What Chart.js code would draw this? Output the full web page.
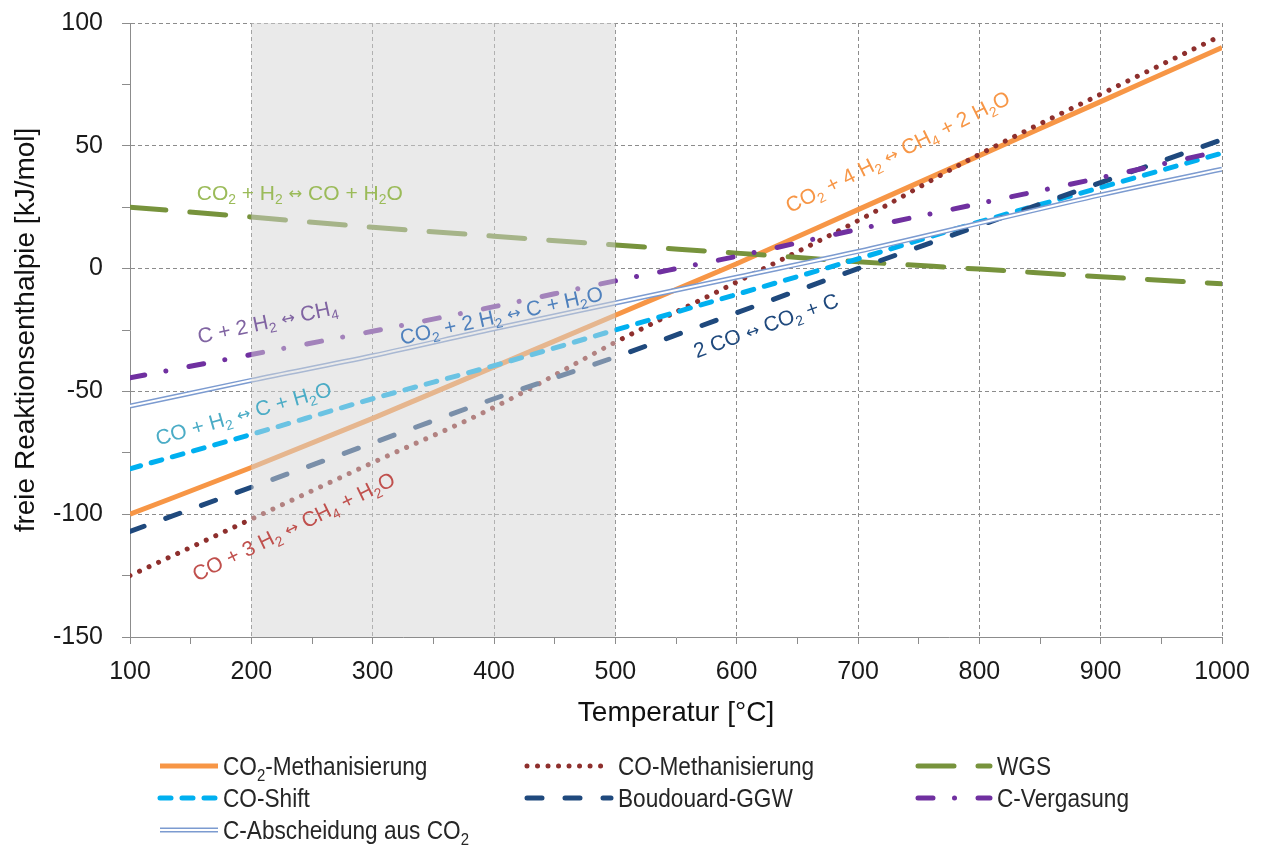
<!DOCTYPE html>
<html>
<head>
<meta charset="utf-8">
<script src="https://cdn.jsdelivr.net/npm/chart.js@4/dist/chart.umd.min.js"></script>
<style>
  html, body { margin: 0; padding: 0; background: #ffffff; }
  #c { display: block; }
</style>
</head>
<body>
<canvas id="c" width="1263" height="845"></canvas>
<script>
// Temperatur [°C]
const temperatures = [100, 200, 300, 400, 500, 600, 700, 800, 900, 1000];

// freie Reaktionsenthalpie [kJ/mol]
const co2Methanisierung = [-100, -81, -61, -40, -19, 2, 24, 46, 68, 90];
const coMethanisierung  = [-125, -102, -79, -56.5, -30, -5.5, 19.5, 46.5, 71, 95];
const wgs               = [25, 21, 16.8, 13.2, 9.6, 6.3, 2.8, -0.2, -3.3, -6.2];
const coShift           = [-81.5, -67.5, -53, -39.5, -25, -10.5, 4, 19, 33, 47];
const boudouard         = [-107, -89, -71, -53, -36, -18, 0, 17.5, 35, 52.5];
const cVergasung        = [-44.5, -35, -25.5, -15.5, -5, 5, 16, 26.5, 37, 48];
const cAbscheidung      = [-56, -45.5, -35.5, -24.5, -14, -3.5, 7, 18.5, 30, 40.5];

// Axis ranges and ticks
const xTicks = { min: 100, max: 1000, minor: 50, major: 100 };
const yTicks = { min: -150, max: 100, minor: 25, major: 50 };

// Highlighted operating window
const windowRange = [200, 500];

const FONT = "'Liberation Sans', Arial, Helvetica, sans-serif";
const GRID = '#8c8c8c';

// Reaction equations written next to the curves ('_' = subscript)
const reactionLabels = [
  { text: 'CO_2 + H_2 ↔ CO + H_2O',        x: 155, y: 28,     angle: 0,     color: '#9BBB59' },
  { text: 'C + 2 H_2 ↔ CH_4',              x: 157, y: -30.5,  angle: -12,   color: '#8064A2' },
  { text: 'CO_2 + 2 H_2 ↔ C + H_2O',       x: 324, y: -31,    angle: -12.5, color: '#4F81BD' },
  { text: 'CO + H_2 ↔ C + H_2O',           x: 123, y: -72,    angle: -16,   color: '#4BACC6' },
  { text: 'CO + 3 H_2 ↔ CH_4 + H_2O',      x: 155, y: -127.5, angle: -26,   color: '#C0504D' },
  { text: 'CO_2 + 4 H_2 ↔ CH_4 + 2 H_2O',  x: 644, y: 22.5,   angle: -26.5, color: '#F79646' },
  { text: '2 CO ↔ CO_2 + C',               x: 567, y: -36.5,  angle: -20,   color: '#1F497D' }
];

const pts = arr => temperatures.map((t, i) => ({ x: t, y: arr[i] }));

// Draws text with subscripts ('_' before a character) and a lighter arrow
function drawRich(ctx, text, size, color) {
  ctx.fillStyle = color;
  ctx.textBaseline = 'alphabetic';
  ctx.textAlign = 'left';
  let cx = 0;
  let run = '';
  const flush = () => {
    if (!run) return;
    ctx.font = `${size}px ${FONT}`;
    ctx.fillText(run, cx, 0);
    cx += ctx.measureText(run).width;
    run = '';
  };
  for (let i = 0; i < text.length; i++) {
    const ch = text[i];
    if (ch === '_') {
      flush();
      const s = text[++i];
      ctx.font = `${size * 0.66}px ${FONT}`;
      ctx.fillText(s, cx, size * 0.22);
      cx += ctx.measureText(s).width;
    } else if (ch === '↔') {
      flush();
      ctx.font = `${size * 0.78}px 'DejaVu Sans', ${FONT}`;
      ctx.fillText(ch, cx, -size * 0.04);
      cx += ctx.measureText(ch).width;
    } else {
      run += ch;
    }
  }
  flush();
  return cx;
}

function strokeSample(ctx, ds, x1, x2, y) {
  ctx.save();
  ctx.beginPath();
  ctx.setLineDash(ds.borderDash || []);
  ctx.lineCap = ds.borderCapStyle || 'butt';
  ctx.lineWidth = ds.borderWidth;
  ctx.strokeStyle = ds.borderColor;
  ctx.moveTo(x1, y);
  ctx.lineTo(x2, y);
  ctx.stroke();
  ctx.restore();
}

// Legend entries: dataset index, row, column, label
const legendEntries = [
  { ds: 0, row: 0, col: 0, text: 'CO_2-Methanisierung' },
  { ds: 1, row: 0, col: 1, text: 'CO-Methanisierung' },
  { ds: 2, row: 0, col: 2, text: 'WGS' },
  { ds: 3, row: 1, col: 0, text: 'CO-Shift' },
  { ds: 4, row: 1, col: 1, text: 'Boudouard-GGW' },
  { ds: 5, row: 1, col: 2, text: 'C-Vergasung' },
  { ds: 6, row: 2, col: 0, text: 'C-Abscheidung aus CO_2', inner: 7 }
];
const legendLayout = {
  cols: [{ x1: 160, x2: 218, tx: 223 }, { x1: 527, x2: 611, tx: 618 }, { x1: 918, x2: 990, tx: 997 }],
  rows: [766, 798, 830]
};

const overlayPlugin = {
  id: 'overlay',
  afterDatasetsDraw(chart) {
    const { ctx, chartArea, scales } = chart;
    const xs = scales.x, ys = scales.y;
    // grey operating window
    const x1 = xs.getPixelForValue(windowRange[0]);
    const x2 = xs.getPixelForValue(windowRange[1]);
    ctx.save();
    ctx.fillStyle = 'rgba(214,214,214,0.5)';
    ctx.fillRect(x1, chartArea.top, x2 - x1, chartArea.bottom - chartArea.top);
    ctx.restore();
    // reaction equations
    reactionLabels.forEach(l => {
      ctx.save();
      ctx.translate(xs.getPixelForValue(l.x), ys.getPixelForValue(l.y));
      ctx.rotate(l.angle * Math.PI / 180);
      drawRich(ctx, l.text, 21, l.color);
      ctx.restore();
    });
  },
  afterDraw(chart) {
    const { ctx } = chart;
    const dss = chart.data.datasets;
    legendEntries.forEach(e => {
      const c = legendLayout.cols[e.col];
      const y = legendLayout.rows[e.row];
      strokeSample(ctx, dss[e.ds], c.x1, c.x2, y);
      if (e.inner !== undefined) strokeSample(ctx, dss[e.inner], c.x1, c.x2, y);
      ctx.save();
      ctx.translate(c.tx, y + 9);
      ctx.scale(0.87, 1);
      drawRich(ctx, e.text, 26, '#262626');
      ctx.restore();
    });
  }
};

const lineBase = { pointRadius: 0, fill: false, cubicInterpolationMode: 'monotone', borderJoinStyle: 'round' };

new Chart(document.getElementById('c'), {
  type: 'line',
  data: {
    datasets: [
      { ...lineBase, label: 'CO₂-Methanisierung', data: pts(co2Methanisierung), borderColor: '#F79646', borderWidth: 5, order: 10 },
      { ...lineBase, label: 'CO-Methanisierung', data: pts(coMethanisierung), borderColor: '#8E2F2D', borderWidth: 5, borderDash: [0.01, 10.5], borderCapStyle: 'round', order: 9 },
      { ...lineBase, label: 'WGS', data: pts(wgs), borderColor: '#77933C', borderWidth: 5, borderDash: [36, 24], borderCapStyle: 'round', order: 8 },
      { ...lineBase, label: 'CO-Shift', data: pts(coShift), borderColor: '#00B0F0', borderWidth: 5, borderDash: [11, 11], borderCapStyle: 'round', order: 7 },
      { ...lineBase, label: 'Boudouard-GGW', data: pts(boudouard), borderColor: '#1F497D', borderWidth: 5, borderDash: [15, 23], borderCapStyle: 'round', order: 6 },
      { ...lineBase, label: 'C-Vergasung', data: pts(cVergasung), borderColor: '#7030A0', borderWidth: 5, borderDash: [15, 21.5, 0.01, 23.5], borderCapStyle: 'round', order: 5 },
      { ...lineBase, label: 'C-Abscheidung aus CO₂', data: pts(cAbscheidung), borderColor: '#7C9BD0', borderWidth: 5, order: 4 },
      { ...lineBase, label: 'C-Abscheidung aus CO₂ (Mitte)', data: pts(cAbscheidung), borderColor: '#ffffff', borderWidth: 2, order: 3 }
    ]
  },
  options: {
    responsive: false,
    devicePixelRatio: 1,
    animation: false,
    layout: { padding: { left: 0, top: 23, right: 41, bottom: 108 } },
    plugins: { legend: { display: false }, tooltip: { enabled: false } },
    scales: {
      x: {
        type: 'linear', min: xTicks.min, max: xTicks.max,
        ticks: {
          stepSize: xTicks.minor, autoSkip: false, maxRotation: 0, padding: 13,
          color: '#1a1a1a', font: { family: FONT, size: 25 },
          callback: v => (v % xTicks.major === 0 ? String(v) : '')
        },
        grid: {
          color: c => (c.tick && c.tick.value % xTicks.major === 0 && c.tick.value > xTicks.min) ? GRID : 'rgba(0,0,0,0)',
          lineWidth: 1, tickLength: 7, tickColor: GRID, tickWidth: 1, tickBorderDash: []
        },
        border: { display: true, color: GRID, width: 1, dash: [4, 3] },
        title: { display: true, text: 'Temperatur [°C]', color: '#111', font: { family: FONT, size: 28 }, padding: { top: 0, bottom: 7 } },
        afterFit: s => { s.height = 100; s.paddingLeft = 0; s.paddingRight = 0; }
      },
      y: {
        type: 'linear', min: yTicks.min, max: yTicks.max,
        ticks: {
          stepSize: yTicks.minor, autoSkip: false, padding: 19,
          color: '#1a1a1a', font: { family: FONT, size: 25 },
          callback: v => (v % yTicks.major === 0 ? String(v) : '')
        },
        grid: {
          color: c => (c.tick && c.tick.value % yTicks.major === 0 && c.tick.value > yTicks.min) ? GRID : 'rgba(0,0,0,0)',
          lineWidth: 1, tickLength: 8, tickColor: GRID, tickWidth: 1, tickBorderDash: []
        },
        border: { display: true, color: GRID, width: 1, dash: [4, 3] },
        title: { display: true, text: 'freie Reaktionsenthalpie [kJ/mol]', color: '#111', font: { family: FONT, size: 28 }, padding: { top: 9, bottom: 0 } },
        afterFit: s => { s.width = 130; s.paddingTop = 0; s.paddingBottom = 0; }
      }
    }
  },
  plugins: [overlayPlugin]
});
</script>
</body>
</html>
